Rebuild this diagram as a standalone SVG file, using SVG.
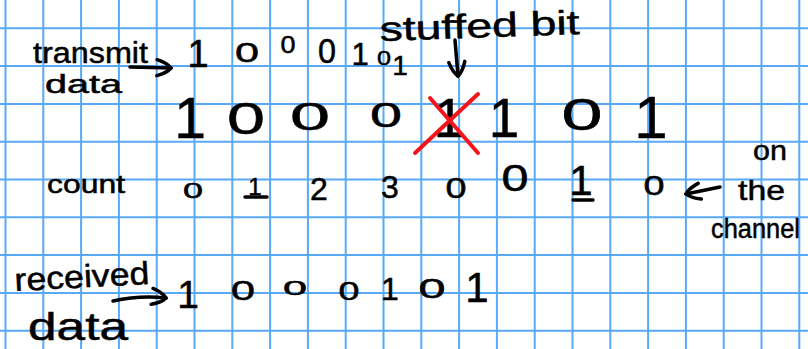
<svg xmlns="http://www.w3.org/2000/svg" width="808" height="349" viewBox="0 0 808 349">
<style>
.grid{stroke:#58a9f7;stroke-width:2;fill:none}
.t{font-family:"Liberation Sans",Arial,sans-serif;fill:#000;stroke:#000;stroke-width:0.5;stroke-linejoin:round;text-anchor:middle}
.l{text-anchor:start}
.ink{stroke:#000;stroke-width:3.5;fill:none;stroke-linecap:round;stroke-linejoin:round}
.red{stroke:#f5141a;stroke-width:4;fill:none;stroke-linecap:round}
</style>
<defs>
<marker id="chev" viewBox="0 0 20 20" refX="17" refY="10" markerWidth="20" markerHeight="20" markerUnits="userSpaceOnUse" orient="auto">
<path d="M3,2 Q13,5 17,10 Q13,15 3,18" stroke="#000" stroke-width="3.5" fill="none" stroke-linecap="round"/>
</marker>
</defs>
<rect width="808" height="349" fill="#fff"/>
<path class="grid" d="M5.5,0V349M43.3,0V349M81.1,0V349M118.9,0V349M156.7,0V349M194.5,0V349M232.3,0V349M270.1,0V349M307.9,0V349M345.7,0V349M383.5,0V349M421.3,0V349M459.1,0V349M496.9,0V349M534.7,0V349M572.5,0V349M610.3,0V349M648.1,0V349M685.9,0V349M723.7,0V349M761.5,0V349M799.3,0V349M0,28.3H808M0,66.1H808M0,103.9H808M0,141.7H808M0,179.5H808M0,217.3H808M0,255.1H808M0,292.9H808M0,330.7H808"/>

<g id="transmit-data">
<text class="t l" x="33" y="63" font-size="30" textLength="115" lengthAdjust="spacingAndGlyphs">transmit</text>
<text class="t l" x="45" y="93" font-size="26" textLength="77" lengthAdjust="spacingAndGlyphs">data</text>
<text class="t" x="198" y="67" font-size="38">1</text>
<text class="t" x="247" y="62" font-size="27" textLength="24" lengthAdjust="spacingAndGlyphs">0</text>
<text class="t" x="288" y="53" font-size="23" textLength="15" lengthAdjust="spacingAndGlyphs">0</text>
<text class="t" x="327" y="63" font-size="35" textLength="18" lengthAdjust="spacingAndGlyphs">0</text>
<text class="t" x="360" y="65" font-size="31">1</text>
<text class="t" x="384" y="65" font-size="21" textLength="14" lengthAdjust="spacingAndGlyphs">0</text>
<text class="t" x="400" y="75" font-size="28">1</text>
</g>

<g id="stuffed-bit-label">
<text class="t l" x="380" y="41" font-size="34" textLength="200" lengthAdjust="spacingAndGlyphs" transform="rotate(-2 380 41)">stuffed bit</text>
</g>

<g id="channel-bits">
<text class="t" x="190" y="138" font-size="57">1</text>
<text class="t" x="246" y="134" font-size="44" textLength="38" lengthAdjust="spacingAndGlyphs">0</text>
<text class="t" x="310" y="130" font-size="38" textLength="40" lengthAdjust="spacingAndGlyphs">0</text>
<text class="t" x="386" y="127" font-size="35" textLength="32" lengthAdjust="spacingAndGlyphs">0</text>
<text class="t" x="449" y="137" font-size="56">1</text>
<text class="t" x="504" y="137" font-size="55">1</text>
<text class="t" x="582" y="130" font-size="45" textLength="41" lengthAdjust="spacingAndGlyphs">0</text>
<text class="t" x="651" y="138" font-size="60">1</text>
<path class="red" d="M430,98L478,153M478,94L415,153"/>
</g>

<g id="count-row">
<text class="t l" x="47" y="193" font-size="26" textLength="78" lengthAdjust="spacingAndGlyphs">count</text>
<text class="t" x="193" y="198" font-size="22" textLength="20" lengthAdjust="spacingAndGlyphs">0</text>
<text class="t" x="255" y="195" font-size="24">1</text>
<path class="ink" d="M245,197H267" stroke-width="3"/>
<text class="t" x="319" y="200" font-size="32">2</text>
<text class="t" x="390" y="198" font-size="32">3</text>
<text class="t" x="456" y="198" font-size="29" textLength="21" lengthAdjust="spacingAndGlyphs">0</text>
<text class="t" x="515" y="191" font-size="36" textLength="27" lengthAdjust="spacingAndGlyphs">0</text>
<text class="t" x="581" y="195" font-size="42">1</text>
<path class="ink" d="M573,200H593" stroke-width="3"/>
<text class="t" x="654" y="195" font-size="28" textLength="21" lengthAdjust="spacingAndGlyphs">0</text>
</g>

<g id="on-the-channel">
<text class="t l" x="753" y="160" font-size="28" textLength="34" lengthAdjust="spacingAndGlyphs">on</text>
<text class="t l" x="738" y="200" font-size="28" textLength="47" lengthAdjust="spacingAndGlyphs">the</text>
<text class="t l" x="711" y="238" font-size="27" textLength="89" lengthAdjust="spacingAndGlyphs">channel</text>
</g>

<g id="received-data">
<text class="t l" x="15" y="291" font-size="32" textLength="135" lengthAdjust="spacingAndGlyphs" transform="rotate(-3 15 291)">received</text>
<text class="t l" x="28" y="340" font-size="38" textLength="100" lengthAdjust="spacingAndGlyphs">data</text>
<text class="t" x="188" y="308" font-size="39">1</text>
<text class="t" x="243" y="300" font-size="28" textLength="24" lengthAdjust="spacingAndGlyphs">0</text>
<text class="t" x="295" y="295" font-size="21" textLength="24" lengthAdjust="spacingAndGlyphs">0</text>
<text class="t" x="349" y="300" font-size="25" textLength="21" lengthAdjust="spacingAndGlyphs">0</text>
<text class="t" x="390" y="300" font-size="32">1</text>
<text class="t" x="432" y="298" font-size="28" textLength="27" lengthAdjust="spacingAndGlyphs">0</text>
<text class="t" x="477" y="302" font-size="42">1</text>
</g>

<g id="connectors">
<path class="ink" d="M130,67L171,68" marker-end="url(#chev)"/>
<path class="ink" d="M455,40L458,76" marker-end="url(#chev)"/>
<path class="ink" d="M720,187L686,194" marker-end="url(#chev)"/>
<path class="ink" d="M113,301Q140,295 166,298" marker-end="url(#chev)"/>
</g>
</svg>
